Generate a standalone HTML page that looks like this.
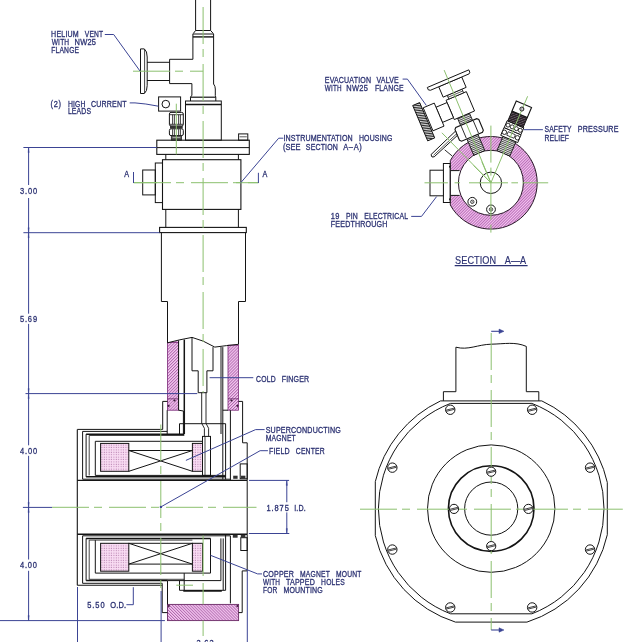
<!DOCTYPE html>
<html><head><meta charset="utf-8"><style>
html,body{margin:0;padding:0;background:#fff;}
body{width:628px;height:642px;overflow:hidden;}
svg{display:block;will-change:transform;}
text{font-family:"Liberation Sans",sans-serif;stroke:#2b3172;stroke-width:0.3px;}
</style></head><body>
<svg width="628" height="642" viewBox="0 0 628 642">
<defs>
<pattern id="hA" patternUnits="userSpaceOnUse" width="2.1" height="2.1" patternTransform="rotate(-45)">
<rect width="2.1" height="2.1" fill="#f6c9f2"/><rect width="0.9" height="2.1" fill="#ae68ac"/></pattern>
<pattern id="hB" patternUnits="userSpaceOnUse" width="2.1" height="2.1" patternTransform="rotate(45)">
<rect width="2.1" height="2.1" fill="#f6c9f2"/><rect width="0.9" height="2.1" fill="#ae68ac"/></pattern>
<pattern id="hR" patternUnits="userSpaceOnUse" width="2.0" height="2.0" patternTransform="rotate(45)">
<rect width="2.0" height="2.0" fill="#f5c5f1"/><rect width="0.8" height="2.0" fill="#ac5aaa"/></pattern>
<pattern id="dot" patternUnits="userSpaceOnUse" width="2.4" height="2.4">
<rect width="2.4" height="2.4" fill="#f9dcf3"/><rect x="0.6" y="0.6" width="1.0" height="1.0" fill="#b57fae"/></pattern>
<pattern id="thr" patternUnits="userSpaceOnUse" width="1.8" height="1.8">
<rect width="1.8" height="1.8" fill="#e8e8e8"/><rect width="1.8" height="0.8" fill="#555"/></pattern>
<pattern id="thrL" patternUnits="userSpaceOnUse" width="1.8" height="1.8" patternTransform="rotate(-23)">
<rect width="1.8" height="1.8" fill="#e6e6e6"/><rect width="1.8" height="0.8" fill="#3a3a3a"/></pattern>
<pattern id="thrR" patternUnits="userSpaceOnUse" width="1.8" height="1.8" patternTransform="rotate(23)">
<rect width="1.8" height="1.8" fill="#e6e6e6"/><rect width="1.8" height="0.8" fill="#3a3a3a"/></pattern>
<pattern id="knurl" patternUnits="userSpaceOnUse" width="1.7" height="1.7" patternTransform="rotate(-5)">
<rect width="1.7" height="1.7" fill="#d8d8d8"/><rect width="1.7" height="0.85" fill="#2a2a2a"/></pattern>
<pattern id="blk" patternUnits="userSpaceOnUse" width="2.2" height="2.2" patternTransform="rotate(68)">
<rect width="2.2" height="2.2" fill="#2a2228"/><rect width="0.7" height="2.2" fill="#6d5f6b"/></pattern>
</defs>
<rect width="628" height="642" fill="#fff"/>
<path d="M167.5,342.8 Q172,341.5 178.6,340.4 V410.2 H167.5 Z" fill="url(#hB)" stroke="none" stroke-width="0"/>
<path d="M228,345.6 Q233,344.9 238.5,344.3 V410.2 H228 Z" fill="url(#hB)" stroke="none" stroke-width="0"/>
<rect x="167.5" y="342.5" width="11.1" height="67.7" fill="none" stroke="#7a2a78" stroke-width="0.8"/>
<rect x="228" y="345.2" width="10.5" height="65" fill="none" stroke="#7a2a78" stroke-width="0.8"/>
<line x1="167.5" y1="398.8" x2="178.6" y2="398.8" stroke="#6a2a68" stroke-width="0.8"/>
<line x1="228" y1="398.8" x2="238.5" y2="398.8" stroke="#6a2a68" stroke-width="0.8"/>
<circle cx="174.5" cy="400.5" r="1.1" fill="#3a1a3a" stroke="none" stroke-width="0"/>
<circle cx="168.6" cy="405.8" r="1.1" fill="#3a1a3a" stroke="none" stroke-width="0"/>
<circle cx="231.5" cy="400.5" r="1.1" fill="#3a1a3a" stroke="none" stroke-width="0"/>
<circle cx="237.4" cy="405.8" r="1.1" fill="#3a1a3a" stroke="none" stroke-width="0"/>
<rect x="167.5" y="604.4" width="71.1" height="16.2" fill="url(#hA)" stroke="#6a2a66" stroke-width="0.9"/>
<circle cx="168.8" cy="606" r="1" fill="#3a1a3a" stroke="none" stroke-width="0"/>
<circle cx="237.3" cy="606" r="1" fill="#3a1a3a" stroke="none" stroke-width="0"/>
<rect x="100.6" y="443.4" width="28.2" height="27.9" fill="url(#dot)" stroke="#141414" stroke-width="1"/>
<rect x="192.4" y="443.4" width="10.1" height="27.9" fill="url(#dot)" stroke="#141414" stroke-width="1"/>
<rect x="100.6" y="543.3" width="28.2" height="27.9" fill="url(#dot)" stroke="#141414" stroke-width="1"/>
<rect x="192.4" y="543.3" width="10.1" height="27.9" fill="url(#dot)" stroke="#141414" stroke-width="1"/>
<line x1="195.6" y1="0" x2="195.6" y2="30.5" stroke="#141414" stroke-width="1"/>
<line x1="210.6" y1="0" x2="210.6" y2="30.5" stroke="#141414" stroke-width="1"/>
<polyline points="195.6,30.5 210.6,30.5" fill="none" stroke="#141414" stroke-width="1"/>
<polyline points="195.6,30.5 193.2,33.6" fill="none" stroke="#141414" stroke-width="1"/>
<polyline points="210.6,30.5 213.4,33.6" fill="none" stroke="#141414" stroke-width="1"/>
<line x1="192.9" y1="34" x2="213.6" y2="34" stroke="#141414" stroke-width="1"/>
<line x1="192.9" y1="36.9" x2="213.6" y2="36.9" stroke="#141414" stroke-width="1.4"/>
<polyline points="192.9,34 192.9,59.3 169.6,59.3 169.6,83.6 191.9,83.6 191.9,95.2 190.5,97.2" fill="none" stroke="#141414" stroke-width="1"/>
<path d="M213.6,34 V84 Q215.3,86 215.3,89 V95.5 L215.8,97.2" fill="none" stroke="#141414" stroke-width="1"/>
<line x1="190.5" y1="97.2" x2="215.8" y2="97.2" stroke="#141414" stroke-width="1.2"/>
<line x1="147" y1="62.3" x2="169.6" y2="62.3" stroke="#141414" stroke-width="1"/>
<line x1="147" y1="80.5" x2="169.6" y2="80.5" stroke="#141414" stroke-width="1"/>
<path d="M140.5,48.9 H144.3 Q147.2,51 147.2,57 V85.5 Q147.2,91.5 144.3,93.5 H140.5 Z" fill="none" stroke="#141414" stroke-width="1"/>
<line x1="144.6" y1="49.2" x2="144.6" y2="93.2" stroke="#141414" stroke-width="0.8"/>
<rect x="185.5" y="101" width="35.8" height="39.2" fill="none" stroke="#141414" stroke-width="1"/>
<line x1="185.5" y1="104.6" x2="221.3" y2="104.6" stroke="#141414" stroke-width="1.5"/>
<line x1="190.5" y1="97.2" x2="190.5" y2="101" stroke="#141414" stroke-width="1"/>
<line x1="215.8" y1="97.2" x2="215.8" y2="101" stroke="#141414" stroke-width="1"/>
<rect x="158.6" y="96.9" width="22" height="14.2" fill="none" stroke="#141414" stroke-width="1"/>
<circle cx="165.8" cy="104.1" r="3.8" fill="none" stroke="#141414" stroke-width="1"/>
<rect x="169.4" y="112.4" width="13.9" height="13.6" fill="none" stroke="#141414" stroke-width="1" rx="1.6"/>
<line x1="169.6" y1="114.7" x2="183.1" y2="114.7" stroke="#141414" stroke-width="0.8"/>
<line x1="169.6" y1="124.3" x2="183.1" y2="124.3" stroke="#141414" stroke-width="0.8"/>
<line x1="172.6" y1="114.7" x2="172.6" y2="124.3" stroke="#141414" stroke-width="0.8"/>
<line x1="174.4" y1="114.7" x2="174.4" y2="124.3" stroke="#141414" stroke-width="0.8"/>
<line x1="178.6" y1="114.7" x2="178.6" y2="124.3" stroke="#141414" stroke-width="0.8"/>
<line x1="180.4" y1="114.7" x2="180.4" y2="124.3" stroke="#141414" stroke-width="0.8"/>
<rect x="170" y="125.8" width="12.7" height="2.6" fill="#333" stroke="none" stroke-width="0"/>
<rect x="169.4" y="128.8" width="13.9" height="6.8" fill="none" stroke="#141414" stroke-width="1" rx="1.6"/>
<line x1="172.6" y1="129.2" x2="172.6" y2="135.2" stroke="#141414" stroke-width="0.8"/>
<line x1="174.4" y1="129.2" x2="174.4" y2="135.2" stroke="#141414" stroke-width="0.8"/>
<line x1="178.6" y1="129.2" x2="178.6" y2="135.2" stroke="#141414" stroke-width="0.8"/>
<line x1="180.4" y1="129.2" x2="180.4" y2="135.2" stroke="#141414" stroke-width="0.8"/>
<rect x="171.3" y="135.6" width="10.1" height="4.6" fill="#555" stroke="#222" stroke-width="0.8"/>
<line x1="172.5" y1="137.5" x2="180.3" y2="137.5" stroke="#ddd" stroke-width="0.6"/>
<rect x="156.8" y="140.2" width="92.5" height="14.2" fill="none" stroke="#141414" stroke-width="1.1"/>
<line x1="156.8" y1="147.6" x2="249.3" y2="147.6" stroke="#141414" stroke-width="1"/>
<rect x="238.6" y="133.9" width="9.2" height="6.3" fill="none" stroke="#141414" stroke-width="1"/>
<line x1="239.6" y1="136.8" x2="246.8" y2="136.8" stroke="#141414" stroke-width="0.7"/>
<line x1="165.8" y1="154.4" x2="165.8" y2="159.7" stroke="#141414" stroke-width="1"/>
<line x1="238.4" y1="154.4" x2="238.4" y2="159.7" stroke="#141414" stroke-width="1"/>
<rect x="162.5" y="159.7" width="78.4" height="49.7" fill="none" stroke="#141414" stroke-width="1.1"/>
<line x1="165.8" y1="209.4" x2="165.8" y2="227.4" stroke="#141414" stroke-width="1"/>
<line x1="238.4" y1="209.4" x2="238.4" y2="227.4" stroke="#141414" stroke-width="1"/>
<rect x="155.3" y="163" width="7.2" height="39.6" fill="none" stroke="#141414" stroke-width="1"/>
<rect x="142.7" y="170" width="12.6" height="24.9" fill="none" stroke="#141414" stroke-width="1"/>
<rect x="159.6" y="227.4" width="86.7" height="5.2" fill="none" stroke="#141414" stroke-width="1.1"/>
<polyline points="161.4,232.6 161.4,301.5 167.5,301.5 167.5,342.8" fill="none" stroke="#141414" stroke-width="1"/>
<polyline points="245.5,232.6 245.5,301.5 238.5,301.5 238.5,344.3" fill="none" stroke="#141414" stroke-width="1"/>
<path d="M167.5,342.8 Q180,339.5 192,337.4 Q203,340 214.8,347.1 Q226,345.6 238.5,344.3" fill="none" stroke="#141414" stroke-width="1"/>
<polyline points="178.6,340.4 178.6,410.2" fill="none" stroke="#141414" stroke-width="1"/>
<line x1="184.3" y1="339.6" x2="184.3" y2="434" stroke="#141414" stroke-width="1.5"/>
<line x1="221" y1="347" x2="221" y2="434" stroke="#141414" stroke-width="1"/>
<line x1="222.8" y1="347.1" x2="222.8" y2="479.4" stroke="#141414" stroke-width="1"/>
<polyline points="192,337.5 192,370.8 198.2,370.8 198.2,392.7 206.9,392.7 206.9,370.8 213,370.8 213,347.1" fill="none" stroke="#141414" stroke-width="1"/>
<polyline points="201.7,392.7 201.7,423.3 204.4,428.3 204.4,436.4" fill="none" stroke="#141414" stroke-width="0.9"/>
<polyline points="206,392.7 206,423.3 208.6,428.3 208.6,436.4" fill="none" stroke="#141414" stroke-width="0.9"/>
<rect x="202.5" y="436.4" width="8" height="39" fill="none" stroke="#141414" stroke-width="1"/>
<line x1="205" y1="436.4" x2="205" y2="475.4" stroke="#141414" stroke-width="0.8"/>
<polyline points="167.5,401.4 162.7,401.4 162.7,429.4" fill="none" stroke="#141414" stroke-width="1"/>
<polyline points="238.5,401.4 242.6,401.4 242.6,442.8 247.2,442.8 247.2,480.4" fill="none" stroke="#141414" stroke-width="1"/>
<polyline points="178.6,410.2 183.4,411 183.4,434" fill="none" stroke="#141414" stroke-width="1"/>
<line x1="167.2" y1="410.2" x2="167.2" y2="434" stroke="#141414" stroke-width="1"/>
<polyline points="222.8,410.2 228,410.2" fill="none" stroke="#141414" stroke-width="1"/>
<line x1="230.4" y1="410.2" x2="230.4" y2="480.2" stroke="#141414" stroke-width="1"/>
<polyline points="179.5,434 179.5,423.7 225.6,423.7 225.6,479.4" fill="none" stroke="#141414" stroke-width="1"/>
<rect x="240.2" y="463.9" width="7" height="14.9" fill="none" stroke="#141414" stroke-width="1"/>
<rect x="233.2" y="475.7" width="4.4" height="3.1" fill="#333" stroke="none" stroke-width="0"/>
<rect x="241" y="475.7" width="4.4" height="3.1" fill="#333" stroke="none" stroke-width="0"/>
<line x1="77.3" y1="429.4" x2="162.7" y2="429.4" stroke="#141414" stroke-width="1"/>
<line x1="82.6" y1="431.4" x2="167.2" y2="431.4" stroke="#141414" stroke-width="1"/>
<line x1="86.1" y1="434.2" x2="184.3" y2="434.2" stroke="#141414" stroke-width="1.5"/>
<line x1="89.2" y1="435.5" x2="184.3" y2="435.5" stroke="#141414" stroke-width="0.8"/>
<line x1="95.3" y1="441.3" x2="202.5" y2="441.3" stroke="#141414" stroke-width="1"/>
<line x1="128.8" y1="450.5" x2="192.4" y2="450.5" stroke="#141414" stroke-width="1"/>
<line x1="128.8" y1="450.5" x2="192.4" y2="471.3" stroke="#141414" stroke-width="1"/>
<line x1="128.8" y1="471.3" x2="192.4" y2="450.5" stroke="#141414" stroke-width="1"/>
<line x1="95.3" y1="475.4" x2="225.6" y2="475.4" stroke="#141414" stroke-width="1"/>
<line x1="86.1" y1="476.8" x2="225.6" y2="476.8" stroke="#141414" stroke-width="1.5"/>
<line x1="82.6" y1="479.2" x2="230.4" y2="479.2" stroke="#141414" stroke-width="1"/>
<line x1="77.3" y1="480.4" x2="247.2" y2="480.4" stroke="#141414" stroke-width="1.2"/>
<line x1="82.6" y1="431.4" x2="82.6" y2="479.2" stroke="#141414" stroke-width="1"/>
<line x1="86.1" y1="434.2" x2="86.1" y2="476.8" stroke="#141414" stroke-width="1"/>
<line x1="89.2" y1="435.5" x2="89.2" y2="475.4" stroke="#141414" stroke-width="0.8"/>
<line x1="95.3" y1="441.3" x2="95.3" y2="475.4" stroke="#141414" stroke-width="1"/>
<line x1="77.3" y1="429.4" x2="77.3" y2="585.2" stroke="#141414" stroke-width="1.1"/>
<line x1="247.2" y1="480.4" x2="247.2" y2="534.3" stroke="#141414" stroke-width="1"/>
<line x1="77.3" y1="534.3" x2="247.2" y2="534.3" stroke="#141414" stroke-width="1.4"/>
<line x1="82.6" y1="535.8" x2="230.4" y2="535.8" stroke="#141414" stroke-width="1"/>
<line x1="86.1" y1="538.4" x2="210.5" y2="538.4" stroke="#141414" stroke-width="1.5"/>
<line x1="89.2" y1="540.1" x2="192.4" y2="540.1" stroke="#141414" stroke-width="0.8"/>
<line x1="128.8" y1="543.3" x2="192.4" y2="543.3" stroke="#141414" stroke-width="1"/>
<line x1="128.8" y1="564.1" x2="192.4" y2="564.1" stroke="#141414" stroke-width="1"/>
<line x1="128.8" y1="543.3" x2="192.4" y2="564.1" stroke="#141414" stroke-width="1"/>
<line x1="128.8" y1="564.1" x2="192.4" y2="543.3" stroke="#141414" stroke-width="1"/>
<line x1="95.3" y1="573.1" x2="210.5" y2="573.1" stroke="#141414" stroke-width="1"/>
<line x1="89.2" y1="579.3" x2="184.2" y2="579.3" stroke="#141414" stroke-width="0.8"/>
<line x1="86.1" y1="580.6" x2="167.5" y2="580.6" stroke="#141414" stroke-width="1.5"/>
<line x1="82.6" y1="583.3" x2="162.2" y2="583.3" stroke="#141414" stroke-width="1"/>
<line x1="77.3" y1="585.2" x2="162.2" y2="585.2" stroke="#141414" stroke-width="1.1"/>
<line x1="82.6" y1="535.8" x2="82.6" y2="583.3" stroke="#141414" stroke-width="1"/>
<line x1="86.1" y1="538.4" x2="86.1" y2="580.6" stroke="#141414" stroke-width="1"/>
<line x1="89.2" y1="540.1" x2="89.2" y2="579.3" stroke="#141414" stroke-width="0.8"/>
<line x1="95.3" y1="540.1" x2="95.3" y2="573.1" stroke="#141414" stroke-width="1"/>
<line x1="210.5" y1="538.4" x2="210.5" y2="573.1" stroke="#141414" stroke-width="1"/>
<polyline points="184.2,573.1 184.2,590.3" fill="none" stroke="#141414" stroke-width="1"/>
<polyline points="167.5,580.6 220.9,580.6 220.9,538.4" fill="none" stroke="#141414" stroke-width="1"/>
<polyline points="179.5,580.6 179.5,590.3 225.6,590.3 225.6,534.3" fill="none" stroke="#141414" stroke-width="1"/>
<line x1="223.2" y1="538.4" x2="223.2" y2="590.3" stroke="#141414" stroke-width="1"/>
<line x1="230.4" y1="535.8" x2="230.4" y2="603.4" stroke="#141414" stroke-width="1"/>
<polyline points="162.2,583.3 162.2,612.6 167.5,612.6" fill="none" stroke="#141414" stroke-width="1"/>
<line x1="167.5" y1="580.6" x2="167.5" y2="604.4" stroke="#141414" stroke-width="1"/>
<polyline points="238.6,612.6 242.2,612.6 242.2,570.9 247.2,570.9 247.2,534.3" fill="none" stroke="#141414" stroke-width="1"/>
<rect x="240.8" y="537.7" width="6.4" height="12.8" fill="none" stroke="#141414" stroke-width="1"/>
<rect x="232.8" y="534.9" width="4.8" height="2.8" fill="#333" stroke="none" stroke-width="0"/>
<rect x="240.8" y="534.9" width="4.6" height="2.8" fill="#333" stroke="none" stroke-width="0"/>
<line x1="183.3" y1="590.8" x2="221.8" y2="590.8" stroke="#141414" stroke-width="1.8"/>
<line x1="203.1" y1="-50" x2="203.1" y2="392.7" stroke="#8cc06e" stroke-width="1" stroke-dasharray="37 5 8 7" stroke-dashoffset="0"/>
<line x1="203.1" y1="535.5" x2="203.1" y2="576" stroke="#8cc06e" stroke-width="1"/>
<line x1="203.1" y1="583" x2="203.1" y2="604.4" stroke="#8cc06e" stroke-width="1"/>
<line x1="203.1" y1="620.6" x2="203.1" y2="636" stroke="#8cc06e" stroke-width="1"/>
<line x1="132.7" y1="71.2" x2="203.1" y2="71.2" stroke="#8cc06e" stroke-width="1" stroke-dasharray="37 5 8 7" stroke-dashoffset="56.7"/>
<line x1="176.3" y1="103.7" x2="176.3" y2="154.4" stroke="#8cc06e" stroke-width="1"/>
<line x1="133.5" y1="182.7" x2="258.4" y2="182.7" stroke="#8cc06e" stroke-width="1" stroke-dasharray="37 5 8 7" stroke-dashoffset="56.5"/>
<line x1="236" y1="182.7" x2="258.4" y2="182.7" stroke="#8cc06e" stroke-width="1"/>
<line x1="133.5" y1="182.7" x2="157" y2="182.7" stroke="#8cc06e" stroke-width="1"/>
<line x1="160.8" y1="424.5" x2="160.8" y2="591" stroke="#8cc06e" stroke-width="1" stroke-dasharray="37 5 8 7" stroke-dashoffset="0.5"/>
<line x1="52" y1="507.3" x2="256.5" y2="507.3" stroke="#8cc06e" stroke-width="1" stroke-dasharray="37 5 8 7" stroke-dashoffset="0"/>
<line x1="176.3" y1="585.2" x2="193" y2="585.2" stroke="#8cc06e" stroke-width="1"/>
<line x1="23.4" y1="147.5" x2="156.8" y2="147.5" stroke="#3b4494" stroke-width="1"/>
<line x1="23.4" y1="232.7" x2="159.6" y2="232.7" stroke="#3b4494" stroke-width="1"/>
<line x1="25.5" y1="393.6" x2="197.3" y2="393.6" stroke="#3b4494" stroke-width="1"/>
<line x1="22.9" y1="507.4" x2="52" y2="507.4" stroke="#3b4494" stroke-width="1"/>
<line x1="0" y1="620.6" x2="164.9" y2="620.6" stroke="#3b4494" stroke-width="1"/>
<line x1="28.6" y1="147.5" x2="28.6" y2="185" stroke="#3b4494" stroke-width="1"/>
<line x1="28.6" y1="198" x2="28.6" y2="313.7" stroke="#3b4494" stroke-width="1"/>
<line x1="28.6" y1="323.9" x2="28.6" y2="445.3" stroke="#3b4494" stroke-width="1"/>
<line x1="28.6" y1="455.8" x2="28.6" y2="559.5" stroke="#3b4494" stroke-width="1"/>
<line x1="28.6" y1="570.8" x2="28.6" y2="620.6" stroke="#3b4494" stroke-width="1"/>
<text transform="translate(20.1,193.9) scale(0.880,1)" x="-0" font-size="8.5" fill="#2b3172" textLength="19.28" lengthAdjust="spacing">3.00</text>
<text transform="translate(19.9,321.7) scale(0.880,1)" x="-0" font-size="8.5" fill="#2b3172" textLength="19.51" lengthAdjust="spacing">5.69</text>
<text transform="translate(20.1,453.9) scale(0.880,1)" x="-0" font-size="8.5" fill="#2b3172" textLength="19.28" lengthAdjust="spacing">4.00</text>
<text transform="translate(19.9,567.6) scale(0.880,1)" x="-0" font-size="8.5" fill="#2b3172" textLength="19.4" lengthAdjust="spacing">4.00</text>
<line x1="249" y1="480.4" x2="289.1" y2="480.4" stroke="#3b4494" stroke-width="1"/>
<line x1="248.9" y1="533.5" x2="289.3" y2="533.5" stroke="#3b4494" stroke-width="1"/>
<line x1="286.8" y1="480.4" x2="286.8" y2="502.2" stroke="#3b4494" stroke-width="1"/>
<line x1="286.8" y1="512.4" x2="286.8" y2="533.5" stroke="#3b4494" stroke-width="1"/>
<text transform="translate(266.6,510.8) scale(0.880,1)" x="-0" font-size="8.5" fill="#2b3172" textLength="25.25" lengthAdjust="spacing">1.875</text>
<text transform="translate(294.3,510.8) scale(0.836,1)" x="-0" font-size="8.5" fill="#2b3172" textLength="13.59" lengthAdjust="spacing">I.D.</text>
<line x1="77.5" y1="587" x2="77.5" y2="642" stroke="#3b4494" stroke-width="1"/>
<line x1="161.1" y1="591" x2="161.1" y2="642" stroke="#3b4494" stroke-width="1"/>
<line x1="247.3" y1="570.9" x2="247.3" y2="642" stroke="#3b4494" stroke-width="1"/>
<polyline points="126.4,604.7 133.3,604.7 133.3,587.2" fill="none" stroke="#3b4494" stroke-width="1"/>
<text transform="translate(87.2,607.9) scale(0.880,1)" x="-0" font-size="8.5" fill="#2b3172" textLength="19.85" lengthAdjust="spacing">5.50</text>
<text transform="translate(110.3,607.9) scale(0.880,1)" x="-0" font-size="8.5" fill="#2b3172" textLength="18.03" lengthAdjust="spacing">O.D.</text>
<text transform="translate(196.4,645.6) scale(0.880,1)" x="-0" font-size="8.5" fill="#2b3172" textLength="19.51" lengthAdjust="spacing">3.63</text>
<line x1="133.5" y1="172" x2="133.5" y2="183" stroke="#3b4494" stroke-width="1"/>
<line x1="258.4" y1="172.8" x2="258.4" y2="183" stroke="#3b4494" stroke-width="1"/>
<text transform="translate(124.3,177.1) scale(0.880,1)" x="-0" font-size="8.2" fill="#2b3172" textLength="6.79" lengthAdjust="spacing">A</text>
<text transform="translate(262.6,176.8) scale(0.880,1)" x="-0" font-size="8.2" fill="#2b3172" textLength="7.59" lengthAdjust="spacing">A</text>
<polyline points="104.8,34.5 113.7,34.5 140,71" fill="none" stroke="#3b4494" stroke-width="1"/>
<text transform="translate(51.1,37.1) scale(0.834,1)" x="-0" font-size="8.5" fill="#2b3172" textLength="33.09" lengthAdjust="spacing">HELIUM</text>
<text transform="translate(84.8,37.1) scale(0.787,1)" x="-0" font-size="8.5" fill="#2b3172" textLength="23.35" lengthAdjust="spacing">VENT</text>
<text transform="translate(51.7,45) scale(0.777,1)" x="-0" font-size="8.5" fill="#2b3172" textLength="22.43" lengthAdjust="spacing">WITH</text>
<text transform="translate(74.5,45) scale(0.880,1)" x="-0" font-size="8.5" fill="#2b3172" textLength="24.42" lengthAdjust="spacing">NW25</text>
<text transform="translate(51.3,53.1) scale(0.790,1)" x="-0" font-size="8.5" fill="#2b3172" textLength="35.07" lengthAdjust="spacing">FLANGE</text>
<path d="M129.7,102.9 H135 Q145,103.5 158.4,106.2" fill="none" stroke="#3b4494" stroke-width="1"/>
<text transform="translate(50.4,106.5) scale(0.880,1)" x="-0" font-size="8.5" fill="#2b3172" textLength="12.18" lengthAdjust="spacing">(2)</text>
<text transform="translate(67.9,106.5) scale(0.799,1)" x="-0" font-size="8.5" fill="#2b3172" textLength="21.91" lengthAdjust="spacing">HIGH</text>
<text transform="translate(91,106.5) scale(0.829,1)" x="-0" font-size="8.5" fill="#2b3172" textLength="42.83" lengthAdjust="spacing">CURRENT</text>
<text transform="translate(67.9,114.3) scale(0.804,1)" x="-0" font-size="8.5" fill="#2b3172" textLength="28.73" lengthAdjust="spacing">LEADS</text>
<polyline points="283.3,138.2 278.7,138.2 240.9,182.6" fill="none" stroke="#3b4494" stroke-width="1"/>
<text transform="translate(283.4,140.7) scale(0.836,1)" x="-0" font-size="8.5" fill="#2b3172" textLength="82.94" lengthAdjust="spacing">INSTRUMENTATION</text>
<text transform="translate(358.9,140.7) scale(0.819,1)" x="-0" font-size="8.5" fill="#2b3172" textLength="40.87" lengthAdjust="spacing">HOUSING</text>
<text transform="translate(282.9,150.1) scale(0.880,1)" x="-0" font-size="8.5" fill="#2b3172" textLength="20.03" lengthAdjust="spacing">(SEE</text>
<text transform="translate(305.8,150.1) scale(0.822,1)" x="-0" font-size="8.5" fill="#2b3172" textLength="38.99" lengthAdjust="spacing">SECTION</text>
<text transform="translate(343.2,150.1) scale(0.880,1)" x="-0" font-size="8.5" fill="#2b3172" textLength="21.16" lengthAdjust="spacing">A–A)</text>
<line x1="209.6" y1="377.7" x2="253.3" y2="377.7" stroke="#3b4494" stroke-width="1"/>
<text transform="translate(256.1,381.6) scale(0.805,1)" x="-0" font-size="8.5" fill="#2b3172" textLength="24.33" lengthAdjust="spacing">COLD</text>
<text transform="translate(281.7,381.6) scale(0.828,1)" x="-0" font-size="8.5" fill="#2b3172" textLength="33.09" lengthAdjust="spacing">FINGER</text>
<polyline points="185.9,460.4 255.6,429.6 264.6,429.6" fill="none" stroke="#3b4494" stroke-width="1"/>
<text transform="translate(265.7,433.4) scale(0.838,1)" x="-0" font-size="8.5" fill="#2b3172" textLength="89.61" lengthAdjust="spacing">SUPERCONDUCTING</text>
<text transform="translate(265.7,440.9) scale(0.803,1)" x="-0" font-size="8.5" fill="#2b3172" textLength="37.47" lengthAdjust="spacing">MAGNET</text>
<polyline points="160.9,506.9 260.1,450.7 267.9,450.7" fill="none" stroke="#3b4494" stroke-width="1"/>
<circle cx="160.9" cy="506.9" r="1.2" fill="#3b4494" stroke="none" stroke-width="0"/>
<text transform="translate(269,454.1) scale(0.834,1)" x="-0" font-size="8.5" fill="#2b3172" textLength="24.87" lengthAdjust="spacing">FIELD</text>
<text transform="translate(295.8,454.1) scale(0.802,1)" x="-0" font-size="8.5" fill="#2b3172" textLength="36.04" lengthAdjust="spacing">CENTER</text>
<polyline points="210.5,555.3 257.6,573.9 262,573.9" fill="none" stroke="#3b4494" stroke-width="1"/>
<text transform="translate(262.9,576.9) scale(0.838,1)" x="-0" font-size="8.5" fill="#2b3172" textLength="37.04" lengthAdjust="spacing">COPPER</text>
<text transform="translate(300,576.9) scale(0.795,1)" x="-0" font-size="8.5" fill="#2b3172" textLength="37.47" lengthAdjust="spacing">MAGNET</text>
<text transform="translate(336,576.9) scale(0.788,1)" x="-0" font-size="8.5" fill="#2b3172" textLength="32.09" lengthAdjust="spacing">MOUNT</text>
<text transform="translate(262.9,584.9) scale(0.759,1)" x="-0" font-size="8.5" fill="#2b3172" textLength="22.43" lengthAdjust="spacing">WITH</text>
<text transform="translate(286,584.9) scale(0.840,1)" x="-0" font-size="8.5" fill="#2b3172" textLength="34.38" lengthAdjust="spacing">TAPPED</text>
<text transform="translate(321.1,584.9) scale(0.794,1)" x="-0" font-size="8.5" fill="#2b3172" textLength="29.71" lengthAdjust="spacing">HOLES</text>
<text transform="translate(262.9,592.6) scale(0.779,1)" x="-0" font-size="8.5" fill="#2b3172" textLength="18.5" lengthAdjust="spacing">FOR</text>
<text transform="translate(283.4,592.6) scale(0.826,1)" x="-0" font-size="8.5" fill="#2b3172" textLength="47.73" lengthAdjust="spacing">MOUNTING</text>
<path d="M450.3,160.54 A46.3,46.3 0 1,1 450.3,205.06 Z M490.9,182.8 m-32.5,0 a32.5,32.5 0 1,1 65,0 a32.5,32.5 0 1,1 -65,0 Z" fill="url(#hR)" stroke="none" stroke-width="0" fill-rule="evenodd"/>
<rect x="450.8" y="170.6" width="9.2" height="24.8" fill="#fff" stroke="none" stroke-width="0"/>
<path d="M450.3,160.54 A46.3,46.3 0 1,1 450.3,205.06 Z" fill="none" stroke="#2a1a2a" stroke-width="1"/>
<circle cx="490.9" cy="182.8" r="32.5" fill="none" stroke="#2a1a2a" stroke-width="1"/>
<line x1="450.3" y1="170.6" x2="459.6" y2="170.6" stroke="#141414" stroke-width="1"/>
<line x1="450.3" y1="195.4" x2="459.6" y2="195.4" stroke="#141414" stroke-width="1"/>
<circle cx="490.9" cy="182.8" r="10.7" fill="none" stroke="#141414" stroke-width="1"/>
<circle cx="472.3" cy="201.8" r="4.4" fill="none" stroke="#141414" stroke-width="1"/>
<circle cx="472.3" cy="201.8" r="1.7" fill="none" stroke="#141414" stroke-width="0.8"/>
<circle cx="472.3" cy="201.8" r="0.6" fill="#333" stroke="none" stroke-width="0"/>
<circle cx="491" cy="209.4" r="4.4" fill="none" stroke="#141414" stroke-width="1"/>
<circle cx="491" cy="209.4" r="1.7" fill="none" stroke="#141414" stroke-width="0.8"/>
<circle cx="491" cy="209.4" r="0.6" fill="#333" stroke="none" stroke-width="0"/>
<rect x="443.4" y="163.5" width="6.7" height="39" fill="#fff" stroke="#141414" stroke-width="1"/>
<rect x="430" y="170.2" width="13.4" height="25.6" fill="#fff" stroke="#141414" stroke-width="1"/>
<rect x="449" y="165.8" width="1.6" height="1.8" fill="#222" stroke="none" stroke-width="0"/>
<rect x="449" y="198.4" width="1.6" height="1.8" fill="#222" stroke="none" stroke-width="0"/>
<polygon points="473.79,155.3 484.84,150.61 477.61,133.58 466.57,138.27" fill="url(#thrL)" stroke="#141414" stroke-width="0.9"/>
<polygon points="461.22,126.96 473.19,121.88 469.48,113.13 457.51,118.21" fill="url(#thrL)" stroke="#141414" stroke-width="0.9"/>
<polygon points="459.49,140.29 461.59,141.14 482.49,132.27 483.34,130.17 478.8,119.49 476.7,118.65 455.81,127.52 454.96,129.61" fill="#fff" stroke="#141414" stroke-width="1.1"/>
<line x1="466.34" y1="138.25" x2="461.18" y2="126.1" stroke="#141414" stroke-width="0.9"/>
<line x1="478.49" y1="133.1" x2="473.34" y2="120.95" stroke="#141414" stroke-width="0.9"/>
<polygon points="454.29,119.58 474.54,110.98 466.33,91.65 446.08,100.25" fill="#fff" stroke="#141414" stroke-width="1"/>
<polygon points="448.84,99.08 463.57,92.83 462.01,89.14 447.28,95.4" fill="#fff" stroke="#141414" stroke-width="0.9"/>
<line x1="448.06" y1="97.24" x2="462.79" y2="90.98" stroke="#141414" stroke-width="0.7"/>
<polygon points="443.14,97.15 466.15,87.39 461.74,76.98 438.72,86.75" fill="#fff" stroke="#141414" stroke-width="1"/>
<polygon points="430.44,90.27 469.1,73.86 469.83,72.25 468.81,69.85 427.3,87.47 428.31,89.87" fill="#fff" stroke="#141414" stroke-width="1"/>
<polygon points="442.46,122.43 453.51,117.74 447.06,102.55 436.01,107.24" fill="#fff" stroke="#141414" stroke-width="1"/>
<polygon points="432.98,130.8 444.02,126.11 434.25,103.1 423.21,107.79" fill="#fff" stroke="#141414" stroke-width="1"/>
<polygon points="427.69,140.86 434.69,137.9 419.68,102.55 412.69,105.52" fill="url(#knurl)" stroke="#141414" stroke-width="1"/>
<polygon points="431,154.6 455.6,131 457.2,135.6 434.2,156.8 432,157" fill="#fff" stroke="#141414" stroke-width="1"/>
<line x1="433.6" y1="155.2" x2="456.6" y2="133.8" stroke="#141414" stroke-width="0.7"/>
<line x1="444.7" y1="149.8" x2="452.4" y2="156.2" stroke="#141414" stroke-width="0.9"/>
<line x1="490.9" y1="182.8" x2="444.15" y2="70.11" stroke="#8cc06e" stroke-width="1"/>
<line x1="490.9" y1="182.8" x2="441.9" y2="132.8" stroke="#8cc06e" stroke-width="1"/>
<polygon points="496.96,150.61 509.85,156.08 515.9,141.81 503.02,136.34" fill="url(#thrR)" stroke="#141414" stroke-width="0.9"/>
<polygon points="500.71,135.36 517.74,142.59 521.07,134.77 504.04,127.54" fill="#fff" stroke="#141414" stroke-width="1"/>
<circle cx="504.42" cy="132.27" r="2.2" fill="#fff" stroke="#141414" stroke-width="0.9"/>
<circle cx="517.4" cy="137.77" r="2.2" fill="#fff" stroke="#141414" stroke-width="0.9"/>
<polygon points="506.75,135.21 513.93,138.26 515.42,134.76 508.24,131.71" fill="#fff" stroke="#141414" stroke-width="0.8"/>
<polygon points="504.22,127.62 520.88,134.69 523.81,127.79 507.15,120.71" fill="#fff" stroke="#141414" stroke-width="1"/>
<circle cx="508.01" cy="125.1" r="2" fill="#fff" stroke="#141414" stroke-width="0.9"/>
<circle cx="512.15" cy="126.86" r="2" fill="#fff" stroke="#141414" stroke-width="0.9"/>
<circle cx="516.38" cy="128.65" r="2" fill="#fff" stroke="#141414" stroke-width="0.9"/>
<circle cx="520.25" cy="130.29" r="2" fill="#fff" stroke="#141414" stroke-width="0.9"/>
<polygon points="507.8,120.99 523.08,127.47 527.3,117.53 512.01,111.05" fill="url(#blk)" stroke="#141414" stroke-width="1"/>
<polygon points="512.01,111.05 527.3,117.53 531.55,107.5 516.27,101.01" fill="#fff" stroke="#141414" stroke-width="1.1"/>
<line x1="490.9" y1="182.8" x2="527.63" y2="96.27" stroke="#8cc06e" stroke-width="1"/>
<circle cx="521.88" cy="109.04" r="2" fill="#fff" stroke="#141414" stroke-width="1"/>
<circle cx="521.88" cy="109.04" r="0.7" fill="#444" stroke="none" stroke-width="0"/>
<line x1="424.5" y1="182.8" x2="447.9" y2="182.8" stroke="#8cc06e" stroke-width="1"/>
<line x1="454.6" y1="182.8" x2="460" y2="182.8" stroke="#8cc06e" stroke-width="1"/>
<line x1="469" y1="182.8" x2="508" y2="182.8" stroke="#8cc06e" stroke-width="1"/>
<line x1="511.4" y1="182.8" x2="518" y2="182.8" stroke="#8cc06e" stroke-width="1"/>
<line x1="522.5" y1="182.8" x2="548.2" y2="182.8" stroke="#8cc06e" stroke-width="1"/>
<line x1="490.9" y1="125.6" x2="490.9" y2="239.3" stroke="#8cc06e" stroke-width="1" stroke-dasharray="37 5 8 7" stroke-dashoffset="0"/>
<line x1="490.9" y1="182.8" x2="481.8" y2="161.7" stroke="#8cc06e" stroke-width="1"/>
<line x1="490.9" y1="182.8" x2="473.6" y2="165.5" stroke="#8cc06e" stroke-width="1"/>
<polyline points="402.6,79.1 407.4,79.1 426.3,105.4" fill="none" stroke="#3b4494" stroke-width="1"/>
<text transform="translate(324.8,82.6) scale(0.830,1)" x="-0" font-size="8.5" fill="#2b3172" textLength="55.69" lengthAdjust="spacing">EVACUATION</text>
<text transform="translate(376.5,82.6) scale(0.827,1)" x="-0" font-size="8.5" fill="#2b3172" textLength="26.92" lengthAdjust="spacing">VALVE</text>
<text transform="translate(324.8,90.6) scale(0.746,1)" x="-0" font-size="8.5" fill="#2b3172" textLength="22.43" lengthAdjust="spacing">WITH</text>
<text transform="translate(346.3,90.6) scale(0.880,1)" x="-0" font-size="8.5" fill="#2b3172" textLength="24.42" lengthAdjust="spacing">NW25</text>
<text transform="translate(374.9,90.6) scale(0.819,1)" x="-0" font-size="8.5" fill="#2b3172" textLength="35.07" lengthAdjust="spacing">FLANGE</text>
<line x1="523.8" y1="129.7" x2="542.9" y2="129.7" stroke="#3b4494" stroke-width="1"/>
<text transform="translate(544.5,132.4) scale(0.795,1)" x="-0" font-size="8.5" fill="#2b3172" textLength="34.08" lengthAdjust="spacing">SAFETY</text>
<text transform="translate(577.8,132.4) scale(0.844,1)" x="-0" font-size="8.5" fill="#2b3172" textLength="48.23" lengthAdjust="spacing">PRESSURE</text>
<text transform="translate(544.5,140.6) scale(0.799,1)" x="-0" font-size="8.5" fill="#2b3172" textLength="30.69" lengthAdjust="spacing">RELIEF</text>
<polyline points="411.2,216.4 421.5,216.4 436.6,196.6" fill="none" stroke="#3b4494" stroke-width="1"/>
<text transform="translate(330.8,218.7) scale(0.880,1)" x="-0" font-size="8.5" fill="#2b3172" textLength="9.9" lengthAdjust="spacing">19</text>
<text transform="translate(345.9,218.7) scale(0.815,1)" x="-0" font-size="8.5" fill="#2b3172" textLength="14.58" lengthAdjust="spacing">PIN</text>
<text transform="translate(364.2,218.7) scale(0.810,1)" x="-0" font-size="8.5" fill="#2b3172" textLength="54.04" lengthAdjust="spacing">ELECTRICAL</text>
<text transform="translate(330.8,226.7) scale(0.835,1)" x="-0" font-size="8.5" fill="#2b3172" textLength="67.69" lengthAdjust="spacing">FEEDTHROUGH</text>
<text transform="translate(455.1,264) scale(0.880,1)" x="-0" font-size="10.4" fill="#2b3172" textLength="46.64" lengthAdjust="spacing" style="stroke-width:0.15px">SECTION</text>
<text transform="translate(504.8,264) scale(0.880,1)" x="-0" font-size="10.4" fill="#2b3172" textLength="24.26" lengthAdjust="spacing" style="stroke-width:0.15px">A—A</text>
<line x1="454.7" y1="265.6" x2="527.6" y2="265.6" stroke="#2b3172" stroke-width="1.1"/>
<path d="M440.59,400.9 L541.81,400.9 A119,119 0 0,1 607.3,482.49 L607.3,534.71 A119,119 0 0,1 526.96,622.1 L455.44,622.1 A119,119 0 0,1 375.3,535.58 L375.3,481.62 A119,119 0 0,1 440.59,400.9 Z" fill="none" stroke="#141414" stroke-width="1"/>
<path d="M450.5,403.4 L531.9,403.4 A112.8,112.8 0 0,1 531.9,613.8 L450.5,613.8 A112.8,112.8 0 0,1 450.5,403.4 Z" fill="none" stroke="#141414" stroke-width="1"/>
<path d="M443.4,400.9 V391.7 H455.9 V347.2 C468,350.5 478,344.5 491,344.2 C505,343.9 515,341.5 526.3,346.4 V391.7 H538.8 V400.9" fill="none" stroke="#141414" stroke-width="1"/>
<circle cx="491.2" cy="508.6" r="63.7" fill="none" stroke="#141414" stroke-width="1"/>
<circle cx="491.2" cy="508.6" r="42.8" fill="none" stroke="#141414" stroke-width="1.6"/>
<circle cx="491.2" cy="508.6" r="26.6" fill="none" stroke="#141414" stroke-width="1"/>
<line x1="491.2" y1="333" x2="491.2" y2="630" stroke="#8cc06e" stroke-width="1" stroke-dasharray="37 5 8 7" stroke-dashoffset="0"/>
<line x1="360" y1="509.2" x2="622.8" y2="509.2" stroke="#8cc06e" stroke-width="1" stroke-dasharray="37 5 8 7" stroke-dashoffset="0"/>
<circle cx="528.4" cy="508.9" r="4.6" fill="#fff" stroke="#141414" stroke-width="1"/>
<line x1="524.15" y1="509.34" x2="532.36" y2="507.29" stroke="#141414" stroke-width="0.8"/>
<line x1="524.44" y1="510.51" x2="532.65" y2="508.46" stroke="#141414" stroke-width="0.8"/>
<circle cx="491.2" cy="546.1" r="4.6" fill="#fff" stroke="#141414" stroke-width="1"/>
<line x1="486.95" y1="546.54" x2="495.16" y2="544.49" stroke="#141414" stroke-width="0.8"/>
<line x1="487.24" y1="547.71" x2="495.45" y2="545.66" stroke="#141414" stroke-width="0.8"/>
<circle cx="454" cy="508.9" r="4.6" fill="#fff" stroke="#141414" stroke-width="1"/>
<line x1="449.75" y1="509.34" x2="457.96" y2="507.29" stroke="#141414" stroke-width="0.8"/>
<line x1="450.04" y1="510.51" x2="458.25" y2="508.46" stroke="#141414" stroke-width="0.8"/>
<circle cx="491.2" cy="471.7" r="4.6" fill="#fff" stroke="#141414" stroke-width="1"/>
<line x1="486.95" y1="472.14" x2="495.16" y2="470.09" stroke="#141414" stroke-width="0.8"/>
<line x1="487.24" y1="473.31" x2="495.45" y2="471.26" stroke="#141414" stroke-width="0.8"/>
<circle cx="590.06" cy="549.55" r="4.7" fill="#fff" stroke="#141414" stroke-width="1"/>
<line x1="585.71" y1="550.01" x2="594.11" y2="547.92" stroke="#141414" stroke-width="0.8"/>
<line x1="586" y1="551.18" x2="594.4" y2="549.08" stroke="#141414" stroke-width="0.8"/>
<circle cx="532.15" cy="607.46" r="4.7" fill="#fff" stroke="#141414" stroke-width="1"/>
<line x1="527.81" y1="607.92" x2="536.2" y2="605.83" stroke="#141414" stroke-width="0.8"/>
<line x1="528.1" y1="609.08" x2="536.49" y2="606.99" stroke="#141414" stroke-width="0.8"/>
<circle cx="450.25" cy="607.46" r="4.7" fill="#fff" stroke="#141414" stroke-width="1"/>
<line x1="445.91" y1="607.92" x2="454.3" y2="605.83" stroke="#141414" stroke-width="0.8"/>
<line x1="446.2" y1="609.08" x2="454.59" y2="606.99" stroke="#141414" stroke-width="0.8"/>
<circle cx="392.34" cy="549.55" r="4.7" fill="#fff" stroke="#141414" stroke-width="1"/>
<line x1="388" y1="550.01" x2="396.4" y2="547.92" stroke="#141414" stroke-width="0.8"/>
<line x1="388.29" y1="551.18" x2="396.69" y2="549.08" stroke="#141414" stroke-width="0.8"/>
<circle cx="392.34" cy="467.65" r="4.7" fill="#fff" stroke="#141414" stroke-width="1"/>
<line x1="388" y1="468.12" x2="396.4" y2="466.02" stroke="#141414" stroke-width="0.8"/>
<line x1="388.29" y1="469.28" x2="396.69" y2="467.19" stroke="#141414" stroke-width="0.8"/>
<circle cx="450.25" cy="409.74" r="4.7" fill="#fff" stroke="#141414" stroke-width="1"/>
<line x1="445.91" y1="410.21" x2="454.3" y2="408.12" stroke="#141414" stroke-width="0.8"/>
<line x1="446.2" y1="411.37" x2="454.59" y2="409.28" stroke="#141414" stroke-width="0.8"/>
<circle cx="532.15" cy="409.74" r="4.7" fill="#fff" stroke="#141414" stroke-width="1"/>
<line x1="527.81" y1="410.21" x2="536.2" y2="408.12" stroke="#141414" stroke-width="0.8"/>
<line x1="528.1" y1="411.37" x2="536.49" y2="409.28" stroke="#141414" stroke-width="0.8"/>
<circle cx="590.06" cy="467.65" r="4.7" fill="#fff" stroke="#141414" stroke-width="1"/>
<line x1="585.71" y1="468.12" x2="594.11" y2="466.02" stroke="#141414" stroke-width="0.8"/>
<line x1="586" y1="469.28" x2="594.4" y2="467.19" stroke="#141414" stroke-width="0.8"/>
<line x1="491.2" y1="331.3" x2="500.5" y2="331.3" stroke="#3b4494" stroke-width="1.1"/>
<polygon points="499,329.1 504,331.3 499,333.5" fill="#3b4494" stroke="#3b4494" stroke-width="0.5"/>
<line x1="491.2" y1="630" x2="500.5" y2="630" stroke="#3b4494" stroke-width="1.1"/>
<polygon points="499,627.8 504,630 499,632.2" fill="#3b4494" stroke="#3b4494" stroke-width="0.5"/>
<polygon points="28.6,147.5 29.25,152.5 27.95,152.5" fill="#3b4494" stroke="#3b4494" stroke-width="0.3"/>
<polygon points="28.6,232.7 27.95,227.7 29.25,227.7" fill="#3b4494" stroke="#3b4494" stroke-width="0.3"/>
<polygon points="28.6,232.7 29.25,237.7 27.95,237.7" fill="#3b4494" stroke="#3b4494" stroke-width="0.3"/>
<polygon points="28.6,393.6 27.95,388.6 29.25,388.6" fill="#3b4494" stroke="#3b4494" stroke-width="0.3"/>
<polygon points="28.6,393.6 29.25,398.6 27.95,398.6" fill="#3b4494" stroke="#3b4494" stroke-width="0.3"/>
<polygon points="28.6,507.4 27.95,502.4 29.25,502.4" fill="#3b4494" stroke="#3b4494" stroke-width="0.3"/>
<polygon points="28.6,507.4 29.25,512.4 27.95,512.4" fill="#3b4494" stroke="#3b4494" stroke-width="0.3"/>
<polygon points="28.6,620.6 27.95,615.6 29.25,615.6" fill="#3b4494" stroke="#3b4494" stroke-width="0.3"/>
<polygon points="286.8,480.4 287.45,485.4 286.15,485.4" fill="#3b4494" stroke="#3b4494" stroke-width="0.3"/>
<polygon points="286.8,533.5 286.15,528.5 287.45,528.5" fill="#3b4494" stroke="#3b4494" stroke-width="0.3"/>
</svg>
</body></html>
